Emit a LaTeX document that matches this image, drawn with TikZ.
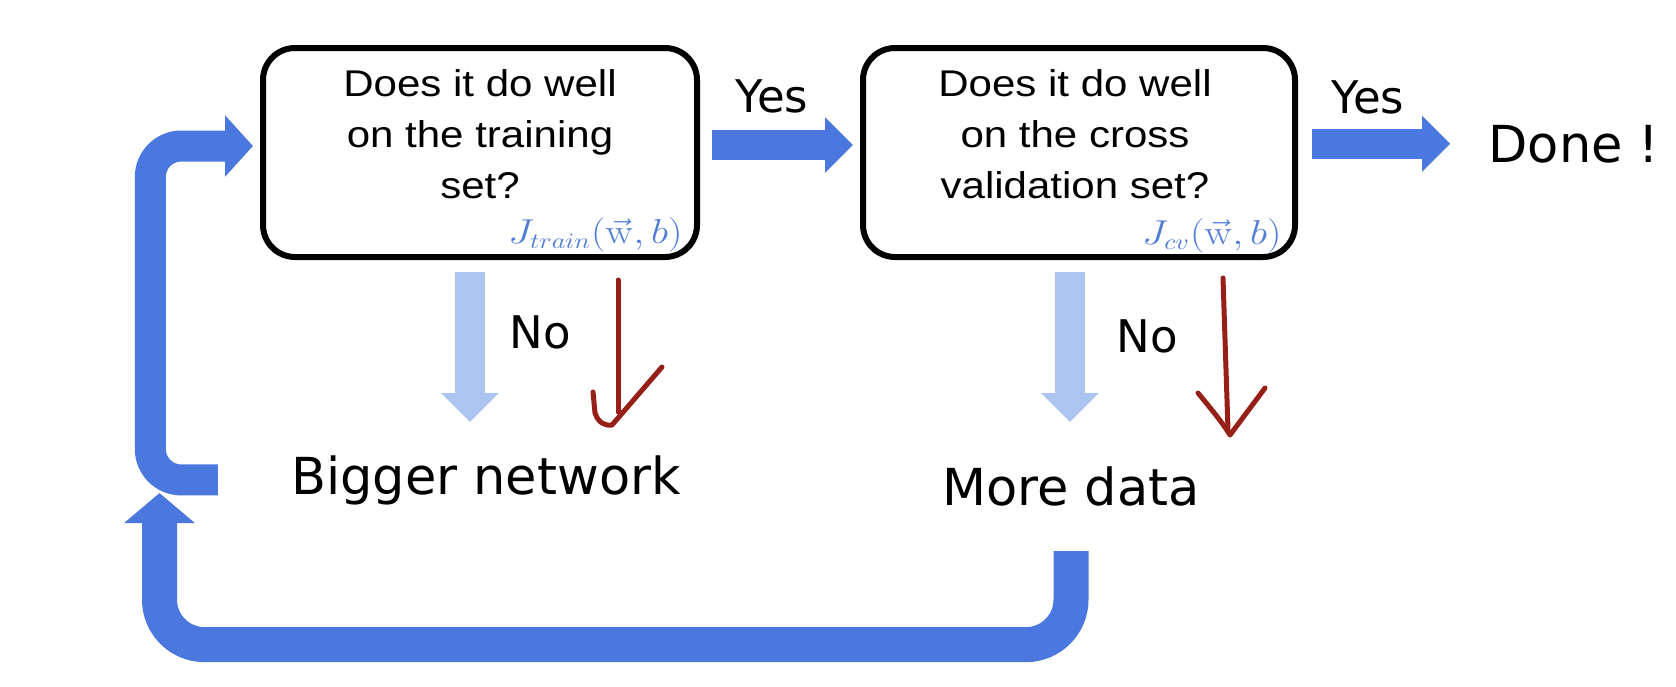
\documentclass[tikz,border=0pt]{standalone}
\usepackage[no-math]{fontspec}
\setmainfont{DejaVu Sans}
\newfontfamily\boxfont[FakeStretch=1.13]{Liberation Sans}
\usetikzlibrary{arrows.meta}
\definecolor{flowblue}{RGB}{74,120,222}
\definecolor{paleblue}{RGB}{172,196,240}
\definecolor{costblue}{RGB}{80,125,215}
\definecolor{penred}{RGB}{150,32,24}
\newcommand{\widecost}[1]{\scalebox{1.18}[1]{$#1$}}
\tikzset{
    question/.style={draw=black, line width=3pt, rounded corners=16pt, minimum width=217pt, minimum height=104.5pt},
    qtext/.style={align=center, inner sep=0pt, font=\boxfont\fontsize{18.6}{25.5}\selectfont},
    cost/.style={text=costblue, inner sep=0pt, anchor=base east, font=\fontsize{16}{18}\selectfont},
    answer/.style={inner sep=0pt, anchor=base, font=\fontsize{22.5}{26}\selectfont},
    outcome/.style={inner sep=0pt, anchor=base, font=\fontsize{25.5}{30}\selectfont},
    yesarrow/.style={flowblue, line width=15pt, -{Triangle[length=14pt, width=27pt]}},
    noarrow/.style={paleblue, line width=15pt, -{Triangle[length=14.5pt, width=28pt]}},
    penarrow/.style={penred, line width=2.5pt, line cap=round, line join=round}
}
\begin{document}
\begin{tikzpicture}[x=0.5pt, y=-0.5pt]
    \useasboundingbox (0,0) rectangle (1676,686);
    \node[question] (train) at (480,152.5) {};
    \node[question, minimum width=216pt] (cv) at (1079,152.5) {};
    \node[qtext] (trainq) at (480,134) {Does it do well\\on the training\\set?};
    \node[qtext] (cvq) at (1075,134) {Does it do well\\on the cross\\validation set?};
    \node[cost] (jtrain) at (683,243) {\widecost{J_{train}(\vec{\mathrm{w}},b)}};
    \node[cost] (jcv) at (1282,244) {\widecost{J_{cv}(\vec{\mathrm{w}},b)}};
    \node[outcome] (done) at (1574,162) {Done !};
    \node[outcome] (bignet) at (486,494) {Bigger network};
    \node[outcome] (moredata) at (1071,505) {More data};
    \node[answer] (yes1) at (772,112) {Yes};
    \node[answer] (yes2) at (1368,113) {Yes};
    \node[answer] (no1) at (540,348) {No};
    \node[answer] (no2) at (1147,352) {No};
    \coordinate (loopin) at (159.5,493);
    \draw[yesarrow] ([xshift=6pt,yshift=3.75pt]train.east) -- ([xshift=-3.5pt,yshift=3.75pt]cv.west);
    \draw[yesarrow, shorten <=7pt, shorten >=19pt] (cv.east |- done.west) -- (done.west);
    \draw[noarrow] ([xshift=-5pt,yshift=-6pt]train.south) -- ++(0,150);
    \draw[noarrow] ([xshift=-4.5pt,yshift=-6pt]cv.south) -- ++(0,150);
    \draw[penarrow] (618,280) -- (618,412);
    \draw[penarrow] (593,392) -- (595,413) .. controls (598,422) and (604,426) .. (612,425) -- (662,367);
    \draw[penarrow] (1223,278) -- (1228,430);
    \draw[penarrow] (1198,393) .. controls (1212,410) and (1222,422) .. (1230,435) -- (1265,388);
    \draw[flowblue, line width=15.5pt, rounded corners=15.5pt, -{Triangle[length=14pt, width=30pt]}, shorten >=3.5pt]
        ([xshift=-36.5pt]bignet.west) -- ++(-67.5,0) |- ([yshift=3.25pt]train.west);
    \draw[flowblue, line width=17.5pt, rounded corners=22.5pt, -{Triangle[length=15pt, width=34.5pt]}]
        ([yshift=-22.5pt]moredata.south) -- ++(0,93.5) -| (loopin);
\end{tikzpicture}
\end{document}
